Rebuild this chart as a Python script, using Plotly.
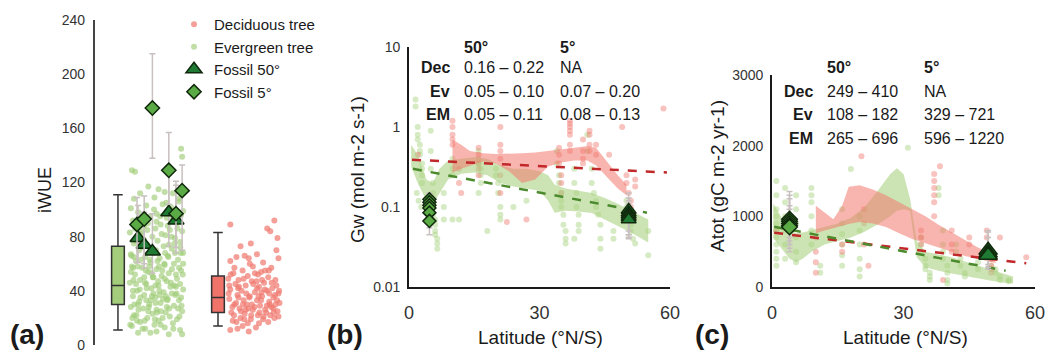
import plotly.graph_objects as go

W, H = 1048, 353
FONT = "Liberation Sans, Arial, sans-serif"
TXT = "#1a1a1a"

# ---------------- Panel (a) data : iWUE ----------------
ev_box = dict(pos=1.12, q1=30, median=44, q3=73, lo=11, hi=111)
dec_box = dict(pos=6.0, q1=24, median=35, q3=51, lo=14, hi=83)

ev_a_x = [1.8, 1.95, 4.2, 4.25, 3.1, 2.6, 3.4, 2.2, 3.8, 1.9, 2.9, 4.1, 3.3, 2.5, 1.75, 3.7, 4.3, 2.1, 3.0, 2.7,
          3.5, 1.85, 4.0, 3.2, 2.4, 2.95, 3.65, 4.25, 1.7, 2.25, 3.45, 2.8, 3.9, 3.05, 4.15, 1.9, 2.55, 3.35, 3.75, 2.15,
          2.9, 4.3, 1.75, 3.55, 2.45, 3.15, 4.05, 2.0, 2.7, 3.85, 3.4, 1.8, 2.3, 3.0, 4.2, 2.6, 3.6, 1.95, 3.25, 2.85,
          4.0, 2.2, 3.5, 1.7, 2.5, 3.1, 3.95, 2.75, 4.3, 2.05, 3.35, 3.75, 2.4, 1.85, 2.95, 3.55, 4.1, 2.15, 3.2, 2.65,
          3.85, 1.75, 2.35, 3.0, 4.25, 3.45, 2.8, 1.9, 3.65, 2.55, 4.0, 3.1, 2.2, 3.8, 2.9, 1.8, 3.4, 2.45, 4.15, 3.0,
          2.1, 3.6, 4.25, 2.7, 1.9, 2.3, 2.65, 3.25, 3.7, 4.1, 2.0, 2.85, 3.5, 4.2, 1.75, 2.4, 3.05, 3.9, 2.6, 3.3,
          2.1, 4.05, 3.6, 2.75, 1.85, 3.15, 2.5, 3.95, 4.3, 2.25, 3.4, 2.95, 3.75, 2.05, 3.2, 4.15, 2.55, 3.0, 3.55, 2.35,
          1.95, 4.2, 3.8]
ev_a_y = [129, 128, 145, 139, 115, 117, 113, 112, 112, 108, 109, 106, 104, 103, 101, 102, 99, 98, 97, 95,
          94, 92, 90, 89, 88, 86, 85, 84, 83, 82, 81, 80, 79, 77, 76, 75, 74, 73, 71, 70,
          69, 68, 67, 66, 65, 64, 63, 62, 61, 60, 59, 58, 57, 56, 55, 54, 53, 52, 51, 50,
          49, 48, 47, 46, 45, 44, 43, 42, 41, 40, 39, 38, 37, 36, 35, 34, 33, 32, 31, 30,
          29, 28, 27, 26, 25, 24, 23, 22, 21, 20, 19, 18, 17, 16, 15, 14, 13, 12, 11, 10,
          9, 8, 8, 9, 65, 72, 58, 82, 46, 57, 45, 38, 28, 35, 54, 50, 62, 68, 25, 20,
          30, 27, 74, 70, 40, 37, 33, 52, 60, 63, 49, 44, 56, 18, 15, 45, 85, 91, 88, 92,
          86, 96, 93]
ev_a_x2 = [1.72, 2.02, 2.32, 2.62, 2.92, 3.22, 3.52, 3.82, 4.12, 1.88, 2.18, 2.48, 2.78, 3.08, 3.38, 3.68, 3.98, 4.28,
           1.78, 2.08, 2.38, 2.68, 2.98, 3.28, 3.58, 3.88, 4.18, 1.92, 2.22, 2.52, 2.82, 3.12, 3.42, 3.72, 4.02,
           1.82, 2.12, 2.42, 2.72, 3.02, 3.32, 3.62, 3.92, 4.22, 1.98, 2.28, 2.58, 2.88, 3.18, 3.48, 3.78, 4.08,
           2.44, 3.14, 3.86, 2.76, 3.46, 1.86, 4.16, 2.96]
ev_a_y2 = [15, 22, 12, 28, 19, 25, 33, 12, 21, 48, 41, 55, 36, 47, 60, 43, 38, 52,
           66, 58, 78, 63, 70, 55, 65, 75, 68, 30, 35, 42, 50, 58, 68, 80, 86,
           20, 26, 18, 33, 24, 34, 27, 37, 29, 77, 84, 90, 100, 95, 105, 99, 108,
           46, 40, 44, 53, 36, 57, 72, 31]

dec_a_x = [6.6, 8.75, 8.4, 8.55, 8.9, 7.6, 8.85, 7.1, 6.9, 7.3, 7.5, 7.9, 8.2, 6.6, 7.7, 8.6, 8.95, 7.2, 8.1, 6.75,
           7.45, 7.95, 8.45, 6.5, 7.0, 8.8, 7.65, 8.25, 6.85, 7.35, 8.0, 8.65, 6.6, 7.15, 7.8, 8.4, 8.95, 6.95, 7.55, 8.15,
           8.7, 6.55, 7.25, 7.9, 8.5, 9.0, 6.8, 7.4, 8.05, 8.6, 7.05, 7.7, 8.3, 8.9, 6.65, 7.3, 7.95, 8.55, 7.1, 7.6,
           8.2, 8.75, 6.9, 7.45, 8.0, 8.45, 7.2, 7.85, 6.6, 6.95, 7.5, 8.35, 8.8, 8.1, 7.65, 6.7, 7.0, 8.5, 8.85, 7.25,
           8.3, 7.55, 6.8, 8.7, 7.9, 8.95, 7.35, 8.15, 6.55, 7.8]
dec_a_y = [89, 92, 86, 84, 79, 75, 70, 73, 65, 66, 64, 67, 61, 62, 58, 57, 64, 55, 54, 53,
           51, 52, 50, 49, 48, 48, 47, 46, 45, 44, 43, 42, 41, 40, 39, 40, 38, 37, 36, 36,
           35, 34, 33, 33, 32, 31, 30, 30, 29, 28, 27, 26, 26, 25, 24, 23, 22, 22, 20, 19,
           19, 20, 17, 16, 16, 17, 14, 13, 11, 12, 10, 24, 30, 33, 30, 28, 35, 38, 44, 49,
           55, 60, 57, 27, 42, 21, 26, 48, 44, 53]
dec_a_x2 = [6.52, 6.78, 7.02, 7.28, 7.52, 7.78, 8.02, 8.28, 8.52, 8.78, 6.62, 6.88, 7.12, 7.38, 7.62,
            7.88, 8.12, 8.38, 8.62, 8.88, 6.72, 6.98, 7.22, 7.48, 7.72, 7.98, 8.22, 8.48, 8.72, 8.98]
dec_a_y2 = [38, 22, 43, 19, 35, 28, 24, 41, 30, 37, 52, 31, 25, 38, 22,
            47, 39, 29, 46, 33, 18, 42, 30, 27, 45, 36, 21, 55, 24, 40]

fa5_pos = [2.05, 2.4, 2.8, 3.6, 3.95, 4.25]
fa5_val = [89, 93, 175, 129, 97, 114]
fa5_lo = [61, 60, 138, 104, 72, 70]
fa5_hi = [109, 110, 215, 157, 118, 133]

fa50_pos = [2.1, 2.4, 2.8, 3.6, 3.95]
fa50_val = [79, 74, 69, 98, 92]
fa50_lo = [61, 57, 53, 73, 68]
fa50_hi = [103, 98, 97, 130, 121]

# ---------------- Panel (b) data : Gw ----------------
gw_ev_lat = [1.5, 1.5, 2, 2, 2, 2.5, 2.5, 2.5, 3, 3, 3, 3, 1.8, 2.2, 2.8,
             5, 5, 5, 5.5, 5.5, 5.5, 5.5, 6, 6, 6, 6, 6.5, 6.5, 6.5,
             8, 8, 8, 10, 10, 10, 10, 11.5,
             16, 16, 16, 16.5, 16.5, 16.5, 16,
             20, 20, 20.5, 20.5, 21, 21, 21, 18,
             24, 27,
             34, 34, 34.5, 34.5, 35, 35, 35, 35.5, 35.5, 36, 36, 36,
             38, 38, 38.5, 38.5, 39, 39, 39, 38,
             41, 41, 42, 42, 42.5, 43, 43, 43.5, 44, 44, 44,
             47, 47,
             50, 50, 50.5, 51, 51, 51.5, 52,
             55, 55]
gw_ev_val = [2.2, 1.8, 1.0, 0.8, 0.7, 0.6, 0.5, 0.45, 0.35, 0.3, 0.25, 0.2, 0.15, 0.12, 0.1,
             0.9, 0.5, 0.3, 0.2, 0.15, 0.1, 0.08, 0.07, 0.06, 0.05, 0.045, 0.04, 0.035, 0.03,
             0.07, 0.1, 0.15, 0.07, 0.4, 0.3, 0.25, 0.07,
             0.5, 0.4, 0.35, 0.3, 0.25, 0.2, 0.15,
             0.3, 0.25, 0.2, 0.15, 0.1, 0.08, 0.07, 0.05,
             0.1, 0.12,
             0.5, 0.35, 0.25, 0.2, 0.15, 0.12, 0.1, 0.08, 0.06, 0.05, 0.04, 0.035,
             0.3, 0.2, 0.15, 0.1, 0.08, 0.06, 0.05, 0.04,
             0.8, 0.5, 0.3, 0.2, 0.15, 0.12, 0.1, 0.08, 0.06, 0.04, 0.03,
             0.05, 0.04,
             0.12, 0.1, 0.08, 0.06, 0.05, 0.04, 0.035,
             0.025, 0.05]
gw_dec_lat = [2, 10, 10, 10, 10, 10, 11.5, 11.5, 12, 16, 16, 16, 16, 16, 21, 21, 21, 21, 21, 21, 22.5, 27,
              34.5, 34.5, 34.5, 35, 35, 35, 37, 37, 37, 37, 37, 37, 37, 40, 40, 40, 40, 41.5, 41.5, 41.5, 41.5,
              43, 43, 46, 49, 50, 50, 50.5, 51, 51, 52, 52, 58.5]
gw_dec_val = [0.45, 1.2, 1.0, 0.8, 0.7, 0.6, 0.3, 0.2, 0.15, 0.55, 0.45, 0.35, 0.3, 0.25, 1.0, 0.6, 0.5, 0.4, 0.25, 0.15, 0.065, 0.07,
              0.55, 0.45, 0.35, 0.25, 0.2, 0.15, 1.2, 1.1, 1.0, 0.9, 0.8, 0.6, 0.5, 0.7, 0.5, 0.4, 0.35, 0.9, 0.8, 0.6, 0.5,
              0.6, 0.45, 0.45, 1.0, 0.25, 0.2, 0.15, 0.12, 0.1, 0.22, 0.18, 1.7]

rib_b_ev_lat = [0.5, 2, 4, 5.5, 7, 9, 12, 15, 18, 21, 24, 27, 30, 32, 33.5, 36, 39, 42, 45, 48, 51, 55]
rib_b_ev_hi = [0.60, 0.45, 0.22, 0.20, 0.30, 0.38, 0.40, 0.42, 0.40, 0.33, 0.30, 0.30, 0.28, 0.25, 0.19, 0.17, 0.16, 0.15, 0.13, 0.11, 0.09, 0.07]
rib_b_ev_lo = [0.32, 0.20, 0.12, 0.11, 0.15, 0.22, 0.26, 0.27, 0.25, 0.20, 0.18, 0.17, 0.16, 0.12, 0.085, 0.09, 0.088, 0.084, 0.07, 0.058, 0.048, 0.036]
rib_b_dec_lat = [10, 12, 14, 17, 20, 23, 26, 29, 32, 35, 38, 41, 43, 45, 48, 50]
rib_b_dec_hi = [0.70, 0.60, 0.50, 0.47, 0.46, 0.46, 0.47, 0.48, 0.50, 0.52, 0.55, 0.58, 0.55, 0.40, 0.25, 0.19]
rib_b_dec_lo = [0.27, 0.30, 0.33, 0.37, 0.35, 0.28, 0.20, 0.22, 0.32, 0.36, 0.38, 0.38, 0.33, 0.25, 0.17, 0.14]

fit_b_dec_lat = [0.7, 59.3]
fit_b_dec_val = [0.39, 0.27]
fit_b_ev_lat = [0.9, 54.7]
fit_b_ev_val = [0.30, 0.085]

fb5_lat = [4.7, 4.7, 4.7, 4.7, 4.7, 4.7]
fb5_val = [0.125, 0.115, 0.105, 0.097, 0.085, 0.067]
fb5_lo = [0.09, 0.08, 0.07, 0.065, 0.055, 0.045]
fb5_hi = [0.15, 0.14, 0.13, 0.12, 0.11, 0.09]
fb50_lat = [50.5, 50.5, 50.5, 50.5, 50.5]
fb50_val = [0.092, 0.085, 0.08, 0.075, 0.07]
fb50_lo = [0.05, 0.045, 0.042, 0.04, 0.045]
fb50_hi = [0.15, 0.13, 0.12, 0.11, 0.10]

# ---------------- Panel (c) data : Atot ----------------
at_ev_lat = [1, 1, 1, 1, 1, 1, 1, 1, 1, 1, 1, 3, 3, 3, 3, 3, 3, 5.5, 5.5, 5.5, 5.5, 5.5, 5.5,
             9, 9, 9, 9, 9, 9, 11, 11, 16, 16, 16, 16, 16, 16, 18, 20, 20, 20, 20, 20, 20, 31,
             34, 34, 34, 35, 35, 35, 36, 36, 36, 38, 38, 39, 39, 39, 39, 40, 40, 40, 40,
             42, 42, 43, 43, 44, 44, 47, 47, 50, 50, 51, 51, 52, 52, 54, 54]
at_ev_val = [1500, 1300, 1100, 1000, 900, 800, 700, 600, 500, 400, 300, 1400, 1200, 1000, 800, 600, 400,
             1300, 1100, 900, 700, 500, 350, 1400, 1300, 1200, 1000, 800, 600, 300, 200,
             1100, 900, 750, 600, 450, 300, 1670, 1000, 800, 600, 400, 250, 150, 1970,
             700, 600, 500, 400, 300, 250, 200, 150, 100, 1400, 1300, 800, 600, 500, 400, 300, 200, 100, 50,
             600, 500, 400, 300, 200, 150, 350, 250, 400, 300, 250, 200, 150, 100, 100, 80]
at_dec_lat = [1, 10, 10, 10, 10, 16, 16, 20.4, 21, 21, 21, 22, 34, 34, 34, 37, 37, 37, 37, 37, 37, 38.3, 39,
              41, 41, 41, 45, 45, 49, 49, 50, 50, 50, 50, 50, 52, 58]
at_dec_val = [800, 700, 500, 350, 200, 600, 500, 1850, 1100, 900, 600, 300, 800, 700, 600, 1600, 1500, 1400, 1300, 1200, 1000, 1710, 100,
              800, 600, 500, 700, 600, 800, 700, 500, 400, 300, 250, 200, 700, 420]

rib_c_ev_lat = [0.3, 2, 4, 5.5, 7, 9, 12, 15, 18, 21, 24, 27, 28.5, 30, 31.5, 33, 35, 38, 41, 44, 47, 50, 53, 55]
rib_c_ev_hi = [1180, 1000, 820, 760, 770, 800, 850, 900, 980, 1120, 1350, 1600, 1680, 1600, 1250, 650, 500, 460, 420, 360, 300, 240, 180, 150]
rib_c_ev_lo = [700, 560, 400, 350, 400, 500, 600, 650, 700, 780, 880, 1000, 1080, 1100, 1080, 420, 280, 230, 190, 150, 120, 90, 60, 50]
rib_c_dec_lat = [10, 12, 14, 16, 17.5, 20, 23, 26, 29, 32, 35, 38, 41, 44, 47, 50, 51]
rib_c_dec_hi = [1150, 1050, 960, 1150, 1420, 1440, 1380, 1300, 1200, 1100, 1000, 880, 770, 660, 560, 470, 450]
rib_c_dec_lo = [760, 800, 830, 860, 890, 920, 900, 850, 760, 680, 620, 560, 500, 440, 400, 350, 340]

fit_c_dec_lat = [0.5, 58]
fit_c_dec_val = [768, 335]
fit_c_ev_lat = [0.5, 53.3]
fit_c_ev_val = [853, 231]

fc5_lat = [4.0, 4.0, 4.0, 4.0, 4.0]
fc5_val = [960, 930, 900, 870, 850]
fc5_lo = [500, 550, 600, 650, 700]
fc5_hi = [1350, 1300, 1250, 1150, 1100]
fc50_lat = [49.3, 49.3, 49.3]
fc50_val = [520, 480, 450]
fc50_lo = [250, 280, 320]
fc50_hi = [800, 780, 700]

# ---------------- Tables ----------------
tab_cols = ["50°", "5°"]
tab_rows = ["Dec", "Ev", "EM"]
tab_b_50 = ["0.16 – 0.22", "0.05 – 0.10", "0.05 – 0.11"]
tab_b_5 = ["NA", "0.07 – 0.20", "0.08 – 0.13"]
tab_c_50 = ["249 – 410", "108 – 182", "265 – 696"]
tab_c_5 = ["NA", "329 – 721", "596 – 1220"]

# ---------------- Styles ----------------
RED_PT = "rgba(240,120,110,0.70)"
GRN_PT = "rgba(160,205,120,0.65)"
RED_PT2 = "rgba(240,120,110,0.45)"
GRN_PT2 = "rgba(165,208,125,0.45)"
RED_RIB = "rgba(242,120,110,0.55)"
GRN_RIB = "rgba(170,210,130,0.60)"
TRI_FILL = "#1f7a33"
DIA_FILL = "#5aab45"
EDGE = "#10280c"
ERR = "#c9c0c0"


def px_x(px):
    return px / W


def px_y(py):
    return 1 - py / H


def errs(val, lo, hi):
    return dict(type="data", symmetric=False,
                array=[h - v for v, h in zip(val, hi)],
                arrayminus=[v - l for v, l in zip(val, lo)],
                color=ERR, thickness=1.5, width=3)


fig = go.Figure()

# ---- Panel (a)
for b, fill in ((ev_box, "#a3cd7b"), (dec_box, "#f0736a")):
    fig.add_trace(go.Box(x=[b["pos"]], q1=[b["q1"]], median=[b["median"]], q3=[b["q3"]],
                         lowerfence=[b["lo"]], upperfence=[b["hi"]], width=0.62, whiskerwidth=0.75,
                         fillcolor=fill, line=dict(color="#333333", width=1.5),
                         showlegend=False, xaxis="x", yaxis="y", hoverinfo="skip"))
fig.add_trace(go.Scatter(x=ev_a_x + ev_a_x2, y=ev_a_y + ev_a_y2, mode="markers", name="Evergreen tree", legendrank=2,
                         marker=dict(size=6, color=GRN_PT), xaxis="x", yaxis="y"))
fig.add_trace(go.Scatter(x=dec_a_x + dec_a_x2, y=dec_a_y + dec_a_y2, mode="markers", name="Deciduous tree", legendrank=1,
                         marker=dict(size=6, color=RED_PT), xaxis="x", yaxis="y"))
fig.add_trace(go.Scatter(x=fa50_pos, y=fa50_val, mode="markers", name="Fossil 50°", legendrank=3,
                         error_y=errs(fa50_val, fa50_lo, fa50_hi),
                         marker=dict(size=14, symbol="triangle-up", color=TRI_FILL, line=dict(color=EDGE, width=1.5)),
                         xaxis="x", yaxis="y"))
fig.add_trace(go.Scatter(x=fa5_pos, y=fa5_val, mode="markers", name="Fossil 5°", legendrank=4,
                         error_y=errs(fa5_val, fa5_lo, fa5_hi),
                         marker=dict(size=11, symbol="diamond", color=DIA_FILL, line=dict(color=EDGE, width=1.5)),
                         xaxis="x", yaxis="y"))


def ribbon(lat, lo, hi, color, xa, ya):
    return go.Scatter(x=list(lat) + list(lat)[::-1], y=list(hi) + list(lo)[::-1], fill="toself",
                      fillcolor=color, line=dict(width=0), mode="lines", showlegend=False,
                      hoverinfo="skip", xaxis=xa, yaxis=ya)


def panel(xa, ya, ev_lat, ev_val, dec_lat, dec_val, rev, rdec, fev, fdec, f5, f50, dsz, tsz):
    fig.add_trace(go.Scatter(x=ev_lat, y=ev_val, mode="markers", marker=dict(size=6, color=GRN_PT2),
                             showlegend=False, xaxis=xa, yaxis=ya))
    fig.add_trace(go.Scatter(x=dec_lat, y=dec_val, mode="markers", marker=dict(size=6, color=RED_PT2),
                             showlegend=False, xaxis=xa, yaxis=ya))
    fig.add_trace(ribbon(*rev, GRN_RIB, xa, ya))
    fig.add_trace(ribbon(*rdec, RED_RIB, xa, ya))
    fig.add_trace(go.Scatter(x=fdec[0], y=fdec[1], mode="lines", line=dict(color="#c0282a", width=2.5, dash="dash"),
                             showlegend=False, xaxis=xa, yaxis=ya))
    fig.add_trace(go.Scatter(x=fev[0], y=fev[1], mode="lines", line=dict(color="#4c8a2e", width=2.5, dash="dash"),
                             showlegend=False, xaxis=xa, yaxis=ya))
    fig.add_trace(go.Scatter(x=f5[0], y=f5[1], mode="markers", error_y=errs(f5[1], f5[2], f5[3]),
                             marker=dict(size=dsz, symbol="diamond", color=DIA_FILL, line=dict(color=EDGE, width=1.5)),
                             showlegend=False, xaxis=xa, yaxis=ya))
    fig.add_trace(go.Scatter(x=f50[0], y=f50[1], mode="markers", error_y=errs(f50[1], f50[2], f50[3]),
                             marker=dict(size=tsz, symbol="triangle-up", color=TRI_FILL, line=dict(color=EDGE, width=1.5)),
                             showlegend=False, xaxis=xa, yaxis=ya))


panel("x2", "y2", gw_ev_lat, gw_ev_val, gw_dec_lat, gw_dec_val,
      (rib_b_ev_lat, rib_b_ev_lo, rib_b_ev_hi), (rib_b_dec_lat, rib_b_dec_lo, rib_b_dec_hi),
      (fit_b_ev_lat, fit_b_ev_val), (fit_b_dec_lat, fit_b_dec_val),
      (fb5_lat, fb5_val, fb5_lo, fb5_hi), (fb50_lat, fb50_val, fb50_lo, fb50_hi), 10, 13)
panel("x3", "y3", at_ev_lat, at_ev_val, at_dec_lat, at_dec_val,
      (rib_c_ev_lat, rib_c_ev_lo, rib_c_ev_hi), (rib_c_dec_lat, rib_c_dec_lo, rib_c_dec_hi),
      (fit_c_ev_lat, fit_c_ev_val), (fit_c_dec_lat, fit_c_dec_val),
      (fc5_lat, fc5_val, fc5_lo, fc5_hi), (fc50_lat, fc50_val, fc50_lo, fc50_hi), 12, 16)

axis_common = dict(showgrid=False, zeroline=False, ticks="", showline=True, linecolor="#1a1a1a", linewidth=1.6,
                   automargin=False, ticklabeloverflow="allow")
xtick = dict(tickfont=dict(size=18, color="#333333", family=FONT), ticklabelstandoff=9)
ytick = dict(tickfont=dict(size=14, color="#333333", family=FONT), ticklabelstandoff=4)

fig.update_layout(
    width=W, height=H, margin=dict(l=0, r=0, t=0, b=0, autoexpand=False),
    paper_bgcolor="white", plot_bgcolor="white",
    font=dict(family=FONT, color=TXT),
    xaxis=dict(domain=[px_x(95), px_x(300)], range=[0, 10], visible=False, fixedrange=True, automargin=False),
    yaxis=dict(domain=[px_y(345), px_y(20)], range=[0, 240], tickvals=[0, 40, 80, 120, 160, 200, 240],
               showgrid=False, zeroline=False, ticks="", showline=True, linecolor="#444444", linewidth=2.2,
               tickfont=dict(size=14, color="#333333", family=FONT), ticklabelstandoff=5, anchor="x",
               automargin=False, ticklabeloverflow="allow"),
    xaxis2=dict(domain=[px_x(409), px_x(670)], range=[0, 60], tickvals=[0, 30, 60], anchor="y2", **axis_common, **xtick),
    yaxis2=dict(domain=[px_y(287), px_y(47)], type="log", range=[-2, 1], tickvals=[0.01, 0.1, 1, 10],
                ticktext=["0.01", "0.1", "1", "10"], anchor="x2", **axis_common, **ytick),
    xaxis3=dict(domain=[px_x(772), px_x(1035)], range=[0, 60], tickvals=[0, 30, 60], anchor="y3", **axis_common, **xtick),
    yaxis3=dict(domain=[px_y(287), px_y(75)], range=[0, 3000], tickvals=[0, 1000, 2000, 3000], anchor="x3",
                **axis_common, **ytick),
    legend=dict(x=px_x(174), y=px_y(8), xanchor="left", yanchor="top", bgcolor="rgba(0,0,0,0)",
                font=dict(size=15, color=TXT, family=FONT), itemwidth=30, tracegroupgap=0),
    showlegend=True,
)

ann = []


def text(px, py, s, size=16, bold=False, xanchor="center", angle=0, color=TXT):
    ann.append(dict(x=px_x(px), y=px_y(py), xref="paper", yref="paper", showarrow=False,
                    text=f"<b>{s}</b>" if bold else s, xanchor=xanchor, yanchor="middle", textangle=angle,
                    font=dict(size=size, family=FONT, color=color)))


# panel letters and axis titles
text(8, 334, "(a)", 28, True, "left")
text(325, 334, "(b)", 28, True, "left")
text(693, 334, "(c)", 28, True, "left")
text(45, 190, "iWUE", 18, angle=-90)
text(357, 170, "Gw (mol m-2 s-1)", 19, angle=-90)
text(718, 176, "Atot (gC m-2 yr-1)", 19, angle=-90)
text(540, 337, "Latitude (°N/S)", 19)
text(905, 337, "Latitude (°N/S)", 19)

# tables
for (lab_x, c1, c2, rows_y, head_y, col50, col5) in (
        (452, 462, 558, [67, 91, 115], 47, tab_b_50, tab_b_5),
        (815, 825, 922, [92, 115, 138], 68, tab_c_50, tab_c_5)):
    text(c1, head_y, tab_cols[0], 16, True, "left")
    text(c2, head_y, tab_cols[1], 16, True, "left")
    for r, yy, a, b in zip(tab_rows, rows_y, col50, col5):
        text(lab_x, yy, r, 16, True, "right")
        text(c1, yy, a, 16, False, "left")
        text(c2, yy, b, 16, False, "left")

fig.update_layout(annotations=ann)
fig.write_html("out.html")
